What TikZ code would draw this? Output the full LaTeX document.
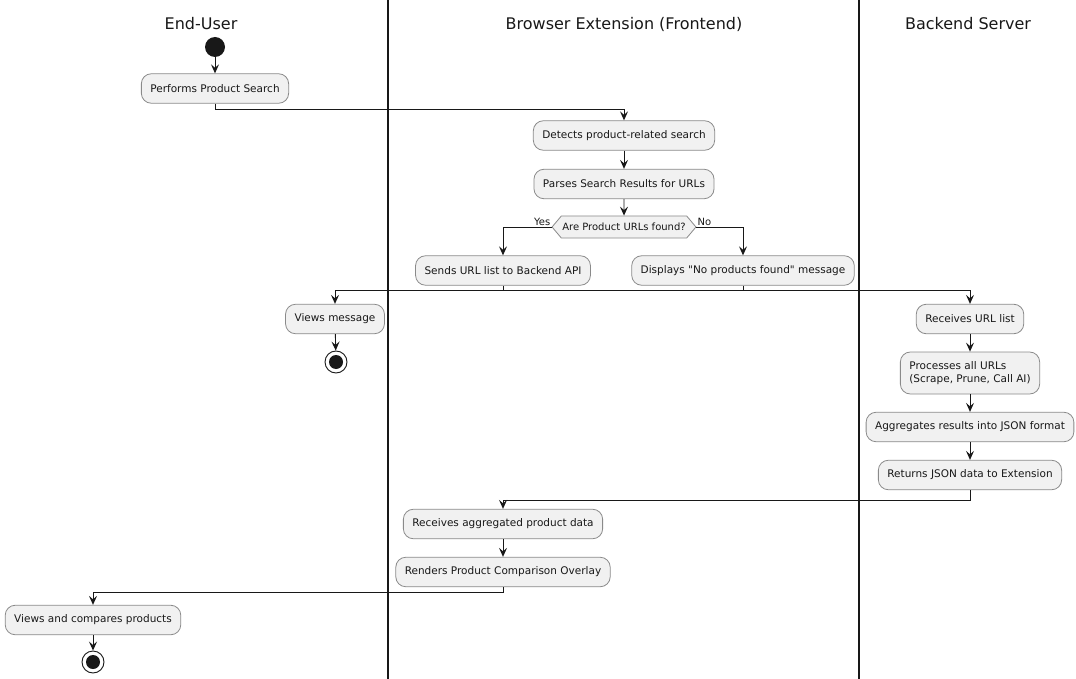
\documentclass[tikz,border=0pt]{standalone}
\usepackage{fontspec}
\setmainfont{DejaVu Sans}[Ligatures=TeXOff]
\usetikzlibrary{arrows.meta,shapes.symbols}
\definecolor{ink}{HTML}{181818}
\definecolor{boxfill}{HTML}{F1F1F1}
\definecolor{boxline}{HTML}{8A8A8A}
\tikzset{
  act/.style={draw=boxline, fill=boxfill, rounded corners=10pt, line width=0.8pt,
    inner xsep=9pt, inner ysep=0pt, minimum height=29.5pt, text=ink,
    font=\fontsize{10.5}{13}\selectfont},
  dec/.style={draw=boxline, fill=boxfill, line width=0.8pt, shape=signal,
    signal to=east and west, signal pointer angle=100, inner xsep=1pt,
    minimum height=22pt, text=ink, font=\fontsize{10}{11.5}\selectfont},
  flow/.style={draw=ink, line width=0.9pt, -{Stealth[length=9pt,width=8pt,inset=3.5pt]}},
  link/.style={draw=ink, line width=0.9pt},
  lane/.style={draw=ink, line width=1.4pt},
  head/.style={text=ink, font=\fontsize{16}{19}\selectfont},
  startdot/.style={circle, fill=ink, minimum size=20pt, inner sep=0pt},
  stopdot/.style={circle, draw=ink, fill=white, line width=0.9pt, minimum size=22pt, inner sep=0pt,
    path picture={\fill[ink] (path picture bounding box.center) circle (7pt);}},
  lbl/.style={text=ink, font=\fontsize{10}{11.5}\selectfont, inner sep=1pt}
}
\begin{document}
\begin{tikzpicture}[x=1pt, y=-1pt]
\useasboundingbox (0,0) rectangle (1076,679);
% swimlane separators and titles
\draw[lane] (388,0) -- (388,679);
\draw[lane] (859,0) -- (859,679);
\node[head] (hUser) at (201,24) {End-User};
\node[head] (hExt) at (624,24) {Browser Extension (Frontend)};
\node[head] (hSrv) at (968,24) {Backend Server};

% End-User lane
\node[startdot] (start) at (215,47) {};
\node[act] (search) at (215,88.5) {Performs Product Search};

% Extension lane
\node[act] (detect) at (624,135.5) {Detects product-related search};
\node[act] (parse) at (624,184) {Parses Search Results for URLs};
\node[dec] (found) at (624,227) {Are Product URLs found?};
\node[act] (send) at (503,270.5) {Sends URL list to Backend API};
\node[act] (nomsg) at (743,270.5) {Displays "No products found" message};

% after the branches
\node[act] (viewmsg) at (335,319) {Views message};
\node[stopdot] (stopA) at (336,362) {};

% Backend lane
\node[act] (recv) at (970,319) {Receives URL list};
\node[act, minimum height=42pt, align=left] (proc) at (970,373) {Processes all URLs\\(Scrape, Prune, Call AI)};
\node[act] (aggr) at (970,427) {Aggregates results into JSON format};
\node[act] (ret) at (970,475) {Returns JSON data to Extension};

% back in the extension
\node[act] (recvdata) at (503,524) {Receives aggregated product data};
\node[act] (render) at (503,572) {Renders Product Comparison Overlay};

% final user step
\node[act] (compare) at (93,620) {Views and compares products};
\node[stopdot] (stopB) at (93,662) {};

% connectors
\draw[flow] (start) -- (search);
\draw[flow] (search.south) -- ++(0,6) -| (detect.north);
\draw[flow] (detect) -- (parse);
\draw[flow] (parse) -- (found);
\draw[flow] (found.west) -| (send.north);
\draw[flow] (found.east) -| (nomsg.north);
\node[lbl, anchor=south east] (yes) at (found.west) {Yes};
\node[lbl, anchor=south west] (no) at (found.east) {No};

\coordinate (mergeL) at (viewmsg.north |- 0,290);
\coordinate (mergeR) at (recv.north |- 0,290);
\draw[link] (send.south) -- (send.south |- mergeL);
\draw[link] (nomsg.south) -- (nomsg.south |- mergeL);
\draw[link] (mergeL) -- (mergeR);
\draw[flow] (mergeL) -- (viewmsg.north);
\draw[flow] (mergeR) -- (recv.north);
\draw[flow] (viewmsg) -- (stopA);

\draw[flow] (recv) -- (proc);
\draw[flow] (proc) -- (aggr);
\draw[flow] (aggr) -- (ret);
\draw[flow] (ret.south) -- ++(0,10) -| (recvdata.north);
\draw[flow] (recvdata) -- (render);
\draw[flow] (render.south) -- ++(0,5) -| (compare.north);
\draw[flow] (compare) -- (stopB);
\end{tikzpicture}
\end{document}
